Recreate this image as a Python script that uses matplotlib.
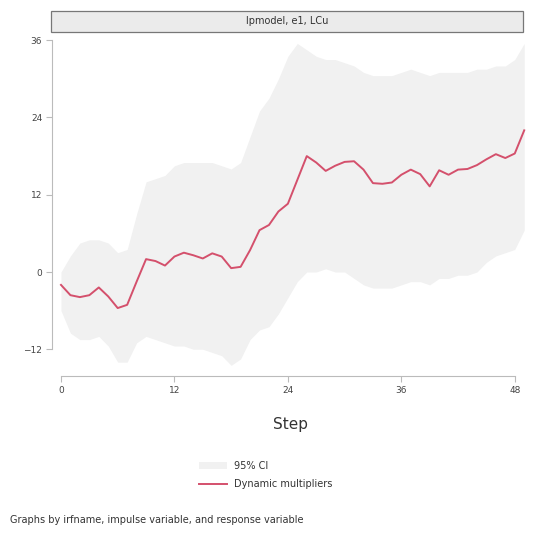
import matplotlib
matplotlib.use("Agg")
import matplotlib.pyplot as plt
from matplotlib.patches import Rectangle, Patch
from matplotlib.lines import Line2D

# Data (steps 0..49)
steps = list(range(50))
dm = [-2.0, -3.6, -3.9, -3.6, -2.4, -3.8, -5.6, -5.1, -1.5, 2.0,
      1.7, 1.0, 2.4, 3.0, 2.6, 2.1, 2.9, 2.4, 0.6, 0.8,
      3.4, 6.5, 7.3, 9.4, 10.6, 14.3, 18.0, 17.0, 15.7, 16.5,
      17.1, 17.2, 15.9, 13.8, 13.7, 13.9, 15.1, 15.9, 15.2, 13.3,
      15.8, 15.1, 15.9, 16.0, 16.6, 17.5, 18.3, 17.7, 18.4, 22.0]
ci_upper = [0.0, 2.5, 4.5, 5.0, 5.0, 4.5, 3.0, 3.5, 9.0, 14.0,
            14.5, 15.0, 16.5, 17.0, 17.0, 17.0, 17.0, 16.5, 16.0, 17.0,
            21.0, 25.0, 27.0, 30.0, 33.5, 35.5, 34.5, 33.5, 33.0, 33.0,
            32.5, 32.0, 31.0, 30.5, 30.5, 30.5, 31.0, 31.5, 31.0, 30.5,
            31.0, 31.0, 31.0, 31.0, 31.5, 31.5, 32.0, 32.0, 33.0, 35.5]
ci_lower = [-6.0, -9.5, -10.5, -10.5, -10.0, -11.5, -14.0, -14.0, -11.0, -10.0,
            -10.5, -11.0, -11.5, -11.5, -12.0, -12.0, -12.5, -13.0, -14.5, -13.5,
            -10.5, -9.0, -8.5, -6.5, -4.0, -1.5, 0.0, 0.0, 0.5, 0.0,
            0.0, -1.0, -2.0, -2.5, -2.5, -2.5, -2.0, -1.5, -1.5, -2.0,
            -1.0, -1.0, -0.5, -0.5, 0.0, 1.5, 2.5, 3.0, 3.5, 6.5]
xticks = [0, 12, 24, 36, 48]
yticks = [-12, 0, 12, 24, 36]

panel_title = "lpmodel, e1, LCu"
note = "Graphs by irfname, impulse variable, and response variable"

line_color = "#d4506c"
band_color = "#f1f1f1"
axis_color = "#bbbbbb"
text_color = "#444444"

fig = plt.figure(figsize=(5.34, 5.34), dpi=100)
ax = fig.add_axes([52 / 534, 1 - 376 / 534, 476 / 534, 338 / 534])

ax.fill_between(steps, ci_lower, ci_upper, color=band_color, lw=0)
ax.plot(steps, dm, color=line_color, lw=1.4)

ax.set_xlim(-0.95, 49.4)
ax.set_ylim(-16.15, 36.34)
ax.set_xticks(xticks)
ax.set_yticks(yticks)

for side in ["top", "right"]:
    ax.spines[side].set_visible(False)
ax.spines["left"].set_bounds(-12, 36)
ax.spines["bottom"].set_bounds(0, 48)
for side in ["left", "bottom"]:
    ax.spines[side].set_color(axis_color)
    ax.spines[side].set_linewidth(0.8)
ax.tick_params(colors=axis_color, labelcolor=text_color, labelsize=6.5,
               length=4, width=0.8, direction="out", pad=3)

ax.set_xlabel("Step", fontsize=11, color="#333333", labelpad=16)

# panel title strip
strip = Rectangle((51 / 534, 1 - 32 / 534), 472 / 534, 21 / 534,
                  transform=fig.transFigure, facecolor="#ebebeb",
                  edgecolor="#777777", lw=0.9)
fig.patches.append(strip)
fig.text(287 / 534, 1 - 21.5 / 534, panel_title, ha="center", va="center",
         fontsize=7, color="#333333")

handles = [Patch(facecolor=band_color, edgecolor="none"),
           Line2D([], [], color=line_color, lw=1.4)]
fig.legend(handles, ["95% CI", "Dynamic multipliers"], loc="center",
           bbox_to_anchor=(266 / 534, 1 - 475 / 534), frameon=False,
           fontsize=7, handlelength=2.8, labelcolor="#333333",
           labelspacing=0.9)

fig.text(10 / 534, 1 - 520 / 534, note, ha="left", va="center",
         fontsize=7, color="#333333")

fig.savefig("out.png", dpi=100)
